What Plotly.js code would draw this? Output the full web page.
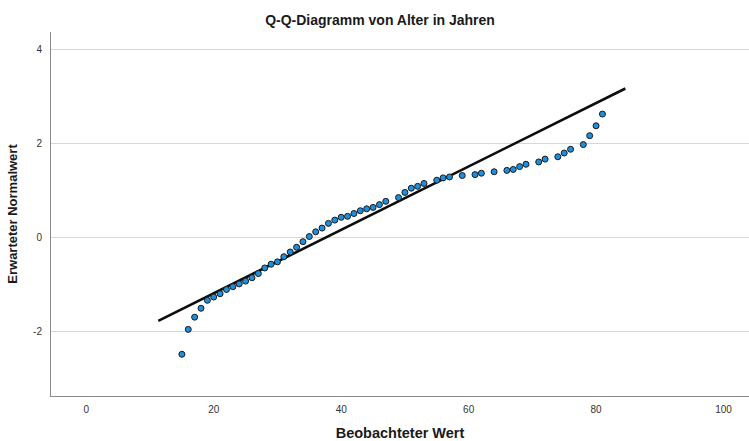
<!DOCTYPE html>
<html>
<head>
<meta charset="utf-8">
<script src="https://cdn.plot.ly/plotly-3.0.1.min.js"></script>
<style>html,body{margin:0;padding:0;background:#fff;}#chart{width:749px;height:441px;}</style>
</head>
<body>
<div id="chart"></div>
<script>
// Observed values (age in years)
const observedAge = [15,16,17,18,19,20,21,22,23,24,25,26,27,28,29,30,31,32,33,34,35,36,37,38,39,40,
  41,42,43,44,45,46,47,49,50,51,52,53,55,56,57,59,61,62,64,66,67,68,69,71,72,74,75,76,78,79,80,81];
// Expected normal values
const expectedNormal = [-2.49,-1.96,-1.70,-1.51,-1.34,-1.27,-1.20,-1.11,-1.05,-0.99,-0.93,-0.86,-0.77,-0.65,-0.57,-0.52,-0.41,-0.31,-0.21,-0.09,0.02,0.12,0.20,0.30,0.37,0.43,
  0.45,0.51,0.57,0.61,0.64,0.70,0.77,0.85,0.96,1.05,1.09,1.15,1.22,1.27,1.29,1.32,1.34,1.37,1.40,1.43,1.45,1.51,1.56,1.61,1.67,1.72,1.80,1.88,1.98,2.17,2.38,2.63];
// Reference line: y = (x - mean) / sd
const refMean = 37.6;
const refSd = 14.8;
const refLineX = [11.3, 84.6];
const refLineY = refLineX.map(x => (x - refMean) / refSd);

const xTicks = [0, 20, 40, 60, 80, 100];
const yTicks = [-2, 0, 2, 4];

const font = 'Liberation Sans, Arial, sans-serif';

const traces = [
  {
    x: refLineX, y: refLineY, type: 'scatter', mode: 'lines',
    line: {color: '#0d0d0d', width: 2.6}, hoverinfo: 'skip', showlegend: false
  },
  {
    x: observedAge, y: expectedNormal, type: 'scatter', mode: 'markers',
    marker: {size: 6, color: '#1e8fdc', line: {color: '#1a1a1a', width: 1}},
    showlegend: false
  }
];

const layout = {
  width: 749, height: 441,
  margin: {l: 51, r: 0, t: 32, b: 45, autoexpand: false},
  paper_bgcolor: '#ffffff', plot_bgcolor: '#ffffff',
  font: {family: font, color: '#333'},
  title: {
    text: 'Q-Q-Diagramm von Alter in Jahren',
    font: {family: font, size: 14, color: '#1a1a1a', weight: 'bold'},
    x: 380/749, xref: 'container', xanchor: 'center',
    y: 1 - 20/441, yref: 'container', yanchor: 'middle'
  },
  xaxis: {
    range: [-5.54, 104.0], tickvals: xTicks, ticktext: xTicks.map(String),
    showgrid: false, zeroline: false, showline: true, linecolor: '#8a8a8a', linewidth: 1,
    ticks: '', tickfont: {family: font, size: 10, color: '#333'}, ticklabelstandoff: 4,
    automargin: false,
    title: {text: 'Beobachteter Wert', font: {family: font, size: 14.5, color: '#1a1a1a', weight: 'bold'}, standoff: 14}
  },
  yaxis: {
    range: [-3.38, 4.38], tickvals: yTicks, ticktext: yTicks.map(String),
    showgrid: true, gridcolor: '#d6d6d6', gridwidth: 1, zeroline: false,
    showline: true, linecolor: '#8a8a8a', linewidth: 1,
    ticks: '', tickfont: {family: font, size: 10, color: '#333'}, ticklabelstandoff: 6,
    automargin: false,
    title: {text: 'Erwarteter Normalwert', font: {family: font, size: 13, color: '#1a1a1a', weight: 'bold'}, standoff: 12}
  }
};

Plotly.newPlot('chart', traces, layout, {displayModeBar: false, staticPlot: true});
</script>
</body>
</html>
